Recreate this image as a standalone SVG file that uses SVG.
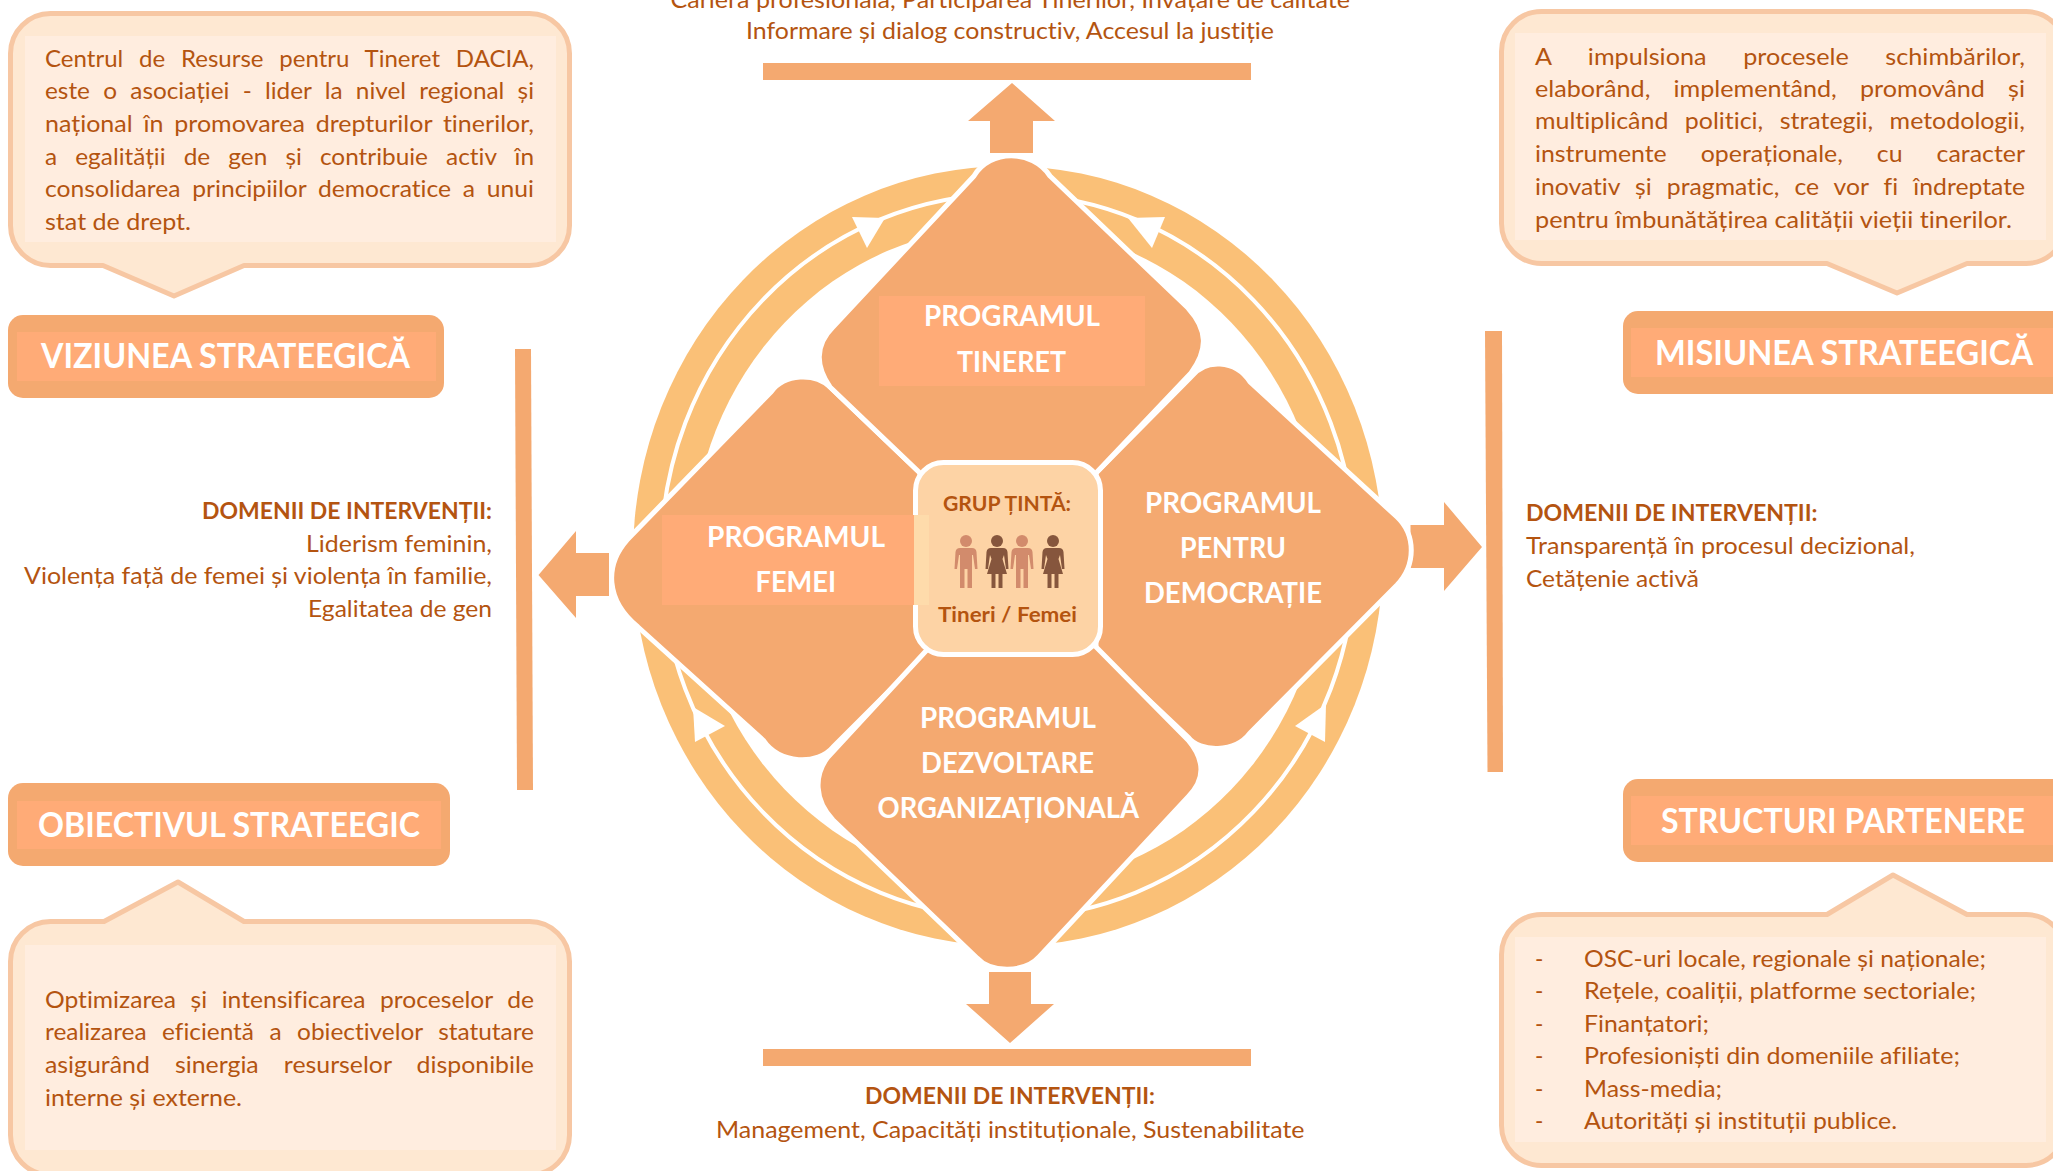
<svg xmlns="http://www.w3.org/2000/svg" width="2053" height="1171" viewBox="0 0 2053 1171">
<style>
text{font-family:Lato,"Noto Sans",sans-serif;fill:#B45410;font-variant-ligatures:none}
.b{font-size:22.5px}
.h{font-size:22.5px;font-weight:700}
.lb{font-size:34px;font-weight:700;fill:#fff}
.pg{font-size:28px;font-weight:700;fill:#fff}
.cap{fill:#F4A970}
.hl{fill:#FFAB77}
.cal{fill:#FEE8D2;stroke:#F7C7A3;stroke-width:5;stroke-linejoin:round}
.calin{fill:#FFEDDF}
.dia{fill:#F4A970;stroke:#fff;stroke-width:5;stroke-linejoin:round}
.tri{fill:#fff}
.fig{opacity:.9;filter:url(#soft)}
</style>
<defs>
<filter id="soft" x="-20%" y="-20%" width="140%" height="140%"><feGaussianBlur stdDeviation="0.5"/></filter>
<g id="man"><circle cx="0" cy="6" r="6"/><path d="M-6 13H6Q10 13 10.5 17L11.5 34H9L7 20H6V53H1.5V34H-1.5V53H-6V20H-7L-9 34H-11.5L-10.5 17Q-10 13-6 13Z"/></g>
<g id="woman"><circle cx="0" cy="6" r="6"/><path d="M-6 13H6Q10 13 10.5 17L11.5 34H9L7 20L5.5 24L10 39H5.5V53H1.5V39H-1.5V53H-5.5V39H-10L-5.5 24L-7 20L-9 34H-11.5L-10.5 17Q-10 13-6 13Z"/></g>
</defs>
<rect width="2053" height="1171" fill="#fff"/>

<g id="ring">
<ellipse cx="1008" cy="556" rx="375" ry="390" fill="#FAC077"/>
<ellipse cx="1008" cy="556" rx="316" ry="330" fill="#fff"/>
<ellipse cx="1008" cy="556" rx="347" ry="362" fill="none" stroke="#fff" stroke-width="4"/>
<polygon class="tri" points="852,217 885,218 867,248"/>
<polygon class="tri" points="1128,218 1165,217 1152,248"/>
<polygon class="tri" points="693,707 725,726 695,742"/>
<polygon class="tri" points="1326,704 1295,726 1325,742"/>
</g>

<g id="connectors">
<rect class="cap" x="763" y="63" width="488" height="17"/>
<polygon class="cap" points="1012,83 1055,121 1033,121 1033,153 990,153 990,121 968,121"/>
<rect class="cap" x="763" y="1049" width="488" height="17"/>
<polygon class="cap" points="989,972 1031,972 1031,1004 1054,1004 1010,1043 966,1004 989,1004"/>
<polygon class="cap" points="515,349 531,349 533,790 517,790"/>
<polygon class="cap" points="538.5,575 576,531 576,553 609,553 609,596 576,596 576,618"/>
<polygon class="cap" points="1485,331 1502,331 1503,772 1487.5,772"/>
<polygon class="cap" points="1482,547 1444,502 1444,525 1410.5,525 1410.5,568 1444,568 1444,591"/>
</g>

<g id="prog-democratie">
<path class="dia" d="M1096,473L1191,377C1205,359 1235,359 1250,382L1397,517C1416,535 1416,565 1397,585L1250,733C1235,753 1200,753 1188,737L1096,650Z"/>
<text class="pg" x="1145" y="513" textLength="176" lengthAdjust="spacingAndGlyphs">PROGRAMUL</text>
<text class="pg" x="1180" y="558" textLength="106" lengthAdjust="spacingAndGlyphs">PENTRU</text>
<text class="pg" x="1144" y="603" textLength="178" lengthAdjust="spacingAndGlyphs">DEMOCRAȚIE</text>
</g>
<g id="prog-femei">
<path class="dia" d="M920,473L830,387C815,373 785,373 771,392L627,540C605,565 605,600 638,627L763,740C780,765 818,765 833,747L928,652Z"/>
</g>
<g id="prog-dezvoltare">
<path class="dia" d="M1010,560L828,757C814,775 814,800 833,820L977,958C990,973 1025,973 1039,957L1188,797C1205,780 1205,760 1188,740Z"/>
<text class="pg" x="920" y="728" textLength="176" lengthAdjust="spacingAndGlyphs">PROGRAMUL</text>
<text class="pg" x="921" y="773" textLength="173" lengthAdjust="spacingAndGlyphs">DEZVOLTARE</text>
<text class="pg" x="877.5" y="818" textLength="261.5" lengthAdjust="spacingAndGlyphs">ORGANIZAȚIONALĂ</text>
</g>
<g id="prog-tineret">
<path class="dia" d="M974,176C990,149 1032,149 1050,176L1188,308C1208,330 1208,350 1191,373L1096,473L1010,560L920,473L830,387C815,365 815,345 833,327Z"/>
<rect class="hl" x="879" y="296" width="266" height="90"/>
<text class="pg" x="924" y="326" textLength="176" lengthAdjust="spacingAndGlyphs">PROGRAMUL</text>
<text class="pg" x="957" y="372" textLength="109" lengthAdjust="spacingAndGlyphs">TINERET</text>
</g>

<g id="grup-tinta">
<rect x="915.5" y="462.5" width="185" height="192" rx="28" fill="#FDD3A5" stroke="#fff" stroke-width="5"/>
<rect x="662" y="515" width="252" height="90" fill="#FFAB77"/>
<rect x="914" y="515" width="15" height="90" fill="#FEDBAB"/>
<text class="pg" x="707" y="547" textLength="178" lengthAdjust="spacingAndGlyphs">PROGRAMUL</text>
<text class="pg" x="755.5" y="592" textLength="80.5" lengthAdjust="spacingAndGlyphs">FEMEI</text>
<text x="943" y="511" font-size="20px" font-weight="700" textLength="128" lengthAdjust="spacingAndGlyphs">GRUP ȚINTĂ:</text>
<text x="938" y="622" font-size="20px" font-weight="700" textLength="139" lengthAdjust="spacingAndGlyphs">Tineri / Femei</text>
<use class="fig" href="#man" x="966" y="535" fill="#CE8466"/>
<use class="fig" href="#woman" x="997" y="535" fill="#7A4A30"/>
<use class="fig" href="#man" x="1022" y="535" fill="#CE8466"/>
<use class="fig" href="#woman" x="1053" y="535" fill="#7A4A30"/>
</g>

<g id="top-domenii">
<text class="b" x="670.5" y="8" textLength="679.5" lengthAdjust="spacingAndGlyphs">Cariera profesională, Participarea Tinerilor, Învățare de calitate</text>
<text class="b" x="746" y="39" textLength="528" lengthAdjust="spacingAndGlyphs">Informare și dialog constructiv, Accesul la justiție</text>
</g>
<g id="bottom-domenii">
<text class="h" x="865" y="1104" textLength="290" lengthAdjust="spacingAndGlyphs">DOMENII DE INTERVENȚII:</text>
<text class="b" x="716" y="1138" textLength="588.5" lengthAdjust="spacingAndGlyphs">Management, Capacități instituționale, Sustenabilitate</text>
</g>
<g id="left-domenii">
<text class="h" x="202" y="519" textLength="290" lengthAdjust="spacingAndGlyphs">DOMENII DE INTERVENȚII:</text>
<text class="b" x="306" y="552" textLength="186" lengthAdjust="spacingAndGlyphs">Liderism feminin,</text>
<text class="b" x="24" y="584" textLength="468" lengthAdjust="spacingAndGlyphs">Violența față de femei și violența în familie,</text>
<text class="b" x="308" y="617" textLength="184" lengthAdjust="spacingAndGlyphs">Egalitatea de gen</text>
</g>
<g id="right-domenii">
<text class="h" x="1526" y="521" textLength="291.5" lengthAdjust="spacingAndGlyphs">DOMENII DE INTERVENȚII:</text>
<text class="b" x="1526" y="554" textLength="389" lengthAdjust="spacingAndGlyphs">Transparență în procesul decizional,</text>
<text class="b" x="1526" y="587" textLength="173" lengthAdjust="spacingAndGlyphs">Cetățenie activă</text>
</g>

<g id="viziune-callout">
<path class="cal" d="M50.5,13.5H529.5A40,40 0 0 1 569.5,53.5V225.5A40,40 0 0 1 529.5,265.5H244L174,296L103,265.5H50.5A40,40 0 0 1 10.5,225.5V53.5A40,40 0 0 1 50.5,13.5Z"/>
<rect class="calin" x="25" y="36" width="531" height="206"/>
<text class="b" x="45" y="67" word-spacing="9" textLength="489" lengthAdjust="spacingAndGlyphs">Centrul de Resurse pentru Tineret DACIA,</text>
<text class="b" x="45" y="99" word-spacing="6.5" textLength="489" lengthAdjust="spacingAndGlyphs">este o asociației - lider la nivel regional și</text>
<text class="b" x="45" y="132" word-spacing="4" textLength="489" lengthAdjust="spacingAndGlyphs">național în promovarea drepturilor tinerilor,</text>
<text class="b" x="45" y="165" word-spacing="11" textLength="489" lengthAdjust="spacingAndGlyphs">a egalității de gen și contribuie activ în</text>
<text class="b" x="45" y="197" word-spacing="5" textLength="489" lengthAdjust="spacingAndGlyphs">consolidarea principiilor democratice a unui</text>
<text class="b" x="45" y="230" textLength="146" lengthAdjust="spacingAndGlyphs">stat de drept.</text>
</g>
<g id="viziune-label">
<rect class="cap" x="8" y="315" width="436" height="83" rx="15"/>
<rect class="hl" x="17" y="332" width="419" height="49"/>
<text class="lb" x="41" y="368" textLength="369" lengthAdjust="spacingAndGlyphs">VIZIUNEA STRATEEGICĂ</text>
</g>
<g id="obiectiv-label">
<rect class="cap" x="8" y="783" width="442" height="83" rx="15"/>
<rect class="hl" x="17" y="801" width="424" height="48"/>
<text class="lb" x="38" y="837" textLength="382" lengthAdjust="spacingAndGlyphs">OBIECTIVUL STRATEEGIC</text>
</g>
<g id="obiectiv-callout">
<path class="cal" d="M50.5,921.5H104L178,882L244,921.5H529.5A40,40 0 0 1 569.5,961.5V1135A40,40 0 0 1 529.5,1175H50.5A40,40 0 0 1 10.5,1135V961.5A40,40 0 0 1 50.5,921.5Z"/>
<rect class="calin" x="25" y="945" width="531" height="205"/>
<text class="b" x="45" y="1008" word-spacing="7.5" textLength="489" lengthAdjust="spacingAndGlyphs">Optimizarea și intensificarea proceselor de</text>
<text class="b" x="45" y="1040" word-spacing="8.5" textLength="489" lengthAdjust="spacingAndGlyphs">realizarea eficientă a obiectivelor statutare</text>
<text class="b" x="45" y="1073" word-spacing="17" textLength="489" lengthAdjust="spacingAndGlyphs">asigurând sinergia resurselor disponibile</text>
<text class="b" x="45" y="1106" textLength="197" lengthAdjust="spacingAndGlyphs">interne și externe.</text>
</g>
<g id="misiune-callout">
<path class="cal" d="M1541.5,11.5H2026A40,40 0 0 1 2066,51.5V223.5A40,40 0 0 1 2026,263.5H1967L1897,293L1827,263.5H1541.5A40,40 0 0 1 1501.5,223.5V51.5A40,40 0 0 1 1541.5,11.5Z"/>
<rect class="calin" x="1515" y="33" width="531" height="207"/>
<text class="b" x="1535" y="65" word-spacing="27" textLength="490" lengthAdjust="spacingAndGlyphs">A impulsiona procesele schimbărilor,</text>
<text class="b" x="1535" y="97" word-spacing="15" textLength="490" lengthAdjust="spacingAndGlyphs">elaborând, implementând, promovând și</text>
<text class="b" x="1535" y="129" word-spacing="9" textLength="490" lengthAdjust="spacingAndGlyphs">multiplicând politici, strategii, metodologii,</text>
<text class="b" x="1535" y="162" word-spacing="25" textLength="490" lengthAdjust="spacingAndGlyphs">instrumente operaționale, cu caracter</text>
<text class="b" x="1535" y="195" word-spacing="8" textLength="490" lengthAdjust="spacingAndGlyphs">inovativ și pragmatic, ce vor fi îndreptate</text>
<text class="b" x="1535" y="228" textLength="477" lengthAdjust="spacingAndGlyphs">pentru îmbunătățirea calității vieții tinerilor.</text>
</g>
<g id="misiune-label">
<rect class="cap" x="1623" y="311" width="460" height="83" rx="15"/>
<rect class="hl" x="1631" y="328" width="430" height="49"/>
<text class="lb" x="1655" y="365" textLength="378" lengthAdjust="spacingAndGlyphs">MISIUNEA STRATEEGICĂ</text>
</g>
<g id="structuri-label">
<rect class="cap" x="1623" y="779" width="460" height="83" rx="15"/>
<rect class="hl" x="1631" y="796" width="430" height="49"/>
<text class="lb" x="1661" y="833" textLength="364" lengthAdjust="spacingAndGlyphs">STRUCTURI PARTENERE</text>
</g>
<g id="structuri-callout">
<path class="cal" d="M1541.5,914.5H1827L1893,875L1967,914.5H2026A40,40 0 0 1 2066,954.5V1125.5A40,40 0 0 1 2026,1165.5H1541.5A40,40 0 0 1 1501.5,1125.5V954.5A40,40 0 0 1 1541.5,914.5Z"/>
<rect class="calin" x="1515" y="937" width="531" height="205"/>
<text class="b" x="1535" y="967">-</text><text class="b" x="1584" y="967" textLength="402" lengthAdjust="spacingAndGlyphs">OSC-uri locale, regionale și naționale;</text>
<text class="b" x="1535" y="999">-</text><text class="b" x="1584" y="999" textLength="392" lengthAdjust="spacingAndGlyphs">Rețele, coaliții, platforme sectoriale;</text>
<text class="b" x="1535" y="1032">-</text><text class="b" x="1584" y="1032" textLength="125" lengthAdjust="spacingAndGlyphs">Finanțatori;</text>
<text class="b" x="1535" y="1064">-</text><text class="b" x="1584" y="1064" textLength="376" lengthAdjust="spacingAndGlyphs">Profesioniști din domeniile afiliate;</text>
<text class="b" x="1535" y="1097">-</text><text class="b" x="1584" y="1097" textLength="138" lengthAdjust="spacingAndGlyphs">Mass-media;</text>
<text class="b" x="1535" y="1129">-</text><text class="b" x="1584" y="1129" textLength="313" lengthAdjust="spacingAndGlyphs">Autorități și instituții publice.</text>
</g>
</svg>
